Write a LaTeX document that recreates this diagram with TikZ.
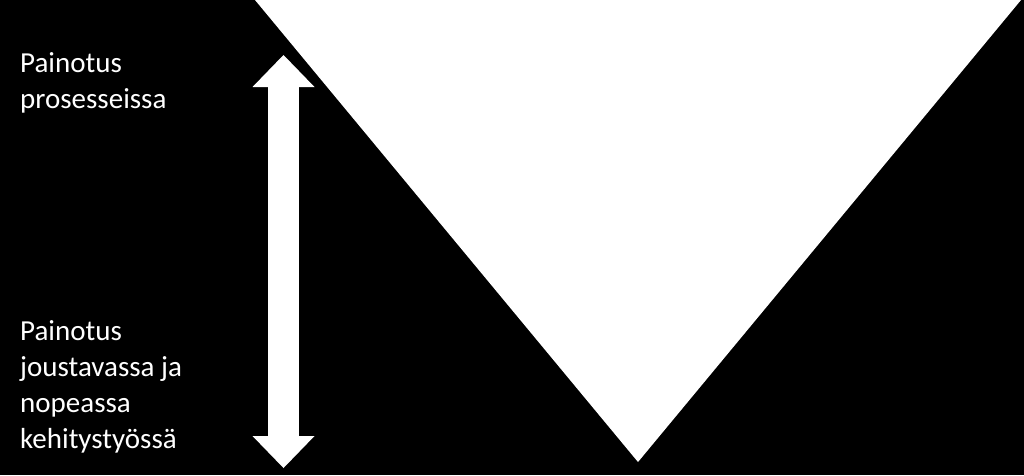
\documentclass[tikz,border=0pt]{standalone}
\usepackage{fontspec}
\setmainfont{Carlito}
\usetikzlibrary{arrows.meta}
\begin{document}
\begin{tikzpicture}[x=1pt,y=-1pt,
  lbl/.style={text=white, anchor=base west, inner sep=0pt, align=left,
    font=\fontsize{29}{36}\selectfont},
  bigarrow/.style={draw=white, line width=31pt,
    {Triangle[width=62pt,length=32pt,line width=0pt]}-{Triangle[width=62pt,length=32pt,line width=0pt]}}]
\useasboundingbox (0,0) rectangle (1024,475);
\fill[black] (0,0) rectangle (1024,475);
\fill[white] (255,0) -- (1021,0) -- (638,462) -- cycle;
\coordinate (atop) at (283.5,55);
\coordinate (abot) at (283.5,468);
\draw[bigarrow] (atop) -- (abot);
\node[lbl] (proc) at (20,108) {Painotus\\prosesseissa};
\node[lbl] (agile) at (20,448) {Painotus\\joustavassa ja\\nopeassa\\kehitystyössä};
\end{tikzpicture}
\end{document}
